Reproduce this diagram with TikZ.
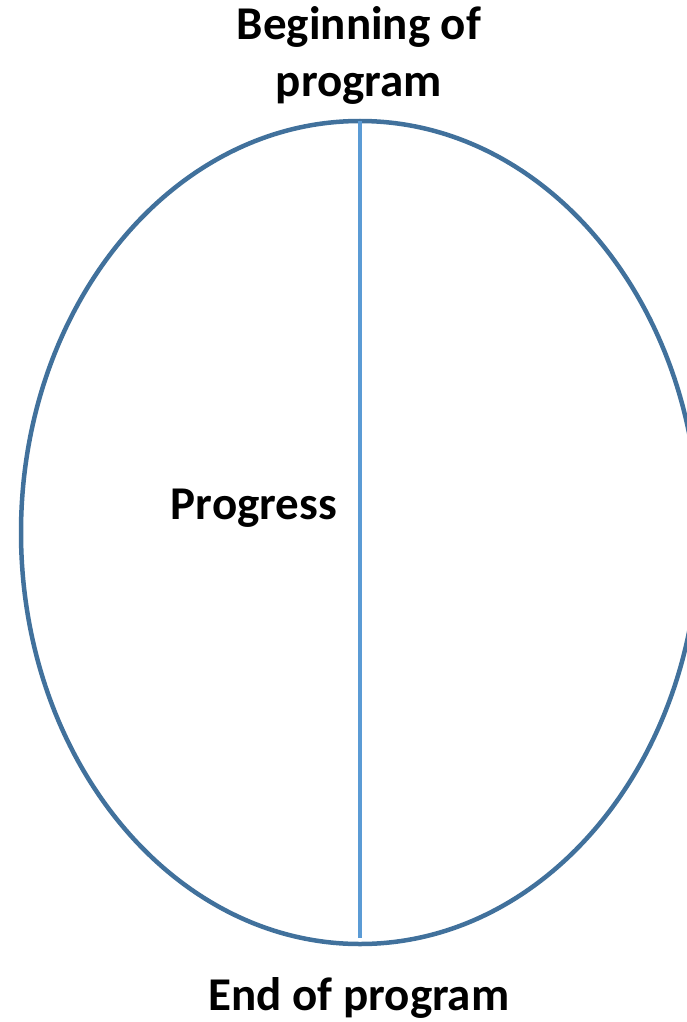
\documentclass[tikz,border=0pt]{standalone}
\usepackage{fontspec}
\setmainfont{Carlito}
\usetikzlibrary{shapes.geometric}
\definecolor{ringblue}{HTML}{41719C}
\definecolor{lineblue}{HTML}{5B9BD5}
\begin{document}
\begin{tikzpicture}[x=1pt,y=-1pt,
  lbl/.style={font=\bfseries\fontsize{47}{57}\selectfont, align=center, inner sep=0pt, anchor=base}]
\useasboundingbox (0,0) rectangle (687,1022);
\clip (0,0) rectangle (687,1022);
\node[draw=ringblue, line width=4.5pt, ellipse, minimum width=678pt, minimum height=823pt, inner sep=0pt] (ring) at (360,532.5) {};
\coordinate (top) at (360,121);
\coordinate (bot) at (360,938);
\draw[lineblue, line width=4.5pt] (top) -- (bot);
\node[lbl] (begin) at (359,97) {Beginning of\\program};
\node[lbl] (prog) at (254,519) {Progress};
\node[lbl] (end) at (359,1010) {End of program};
\end{tikzpicture}
\end{document}
